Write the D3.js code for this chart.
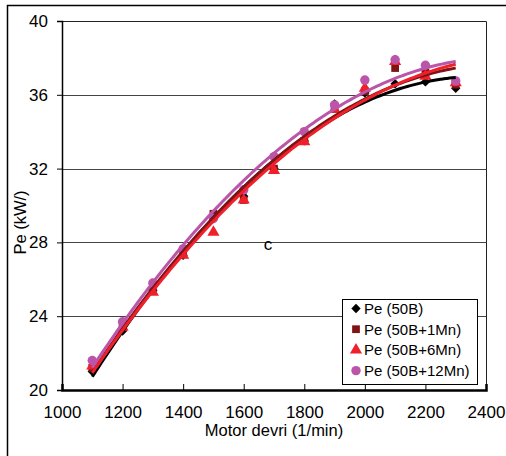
<!DOCTYPE html>
<html><head><meta charset="utf-8">
<script src="https://cdn.jsdelivr.net/npm/d3@7"></script>
<style>body{margin:0;background:#fff}svg{display:block}text{font-family:"Liberation Sans",Arial,sans-serif}</style>
</head><body><svg id="c" width="506" height="456"></svg>
<script>
const rpm = [1100,1200,1300,1400,1500,1600,1700,1800,1900,2000,2100,2200,2300];
const pe50B   = [21.0,23.2,25.4,27.3,29.4,30.5,32.0,33.5,35.5,36.1,36.6,36.7,36.35];
const pe1Mn   = [21.2,23.4,25.5,27.4,29.55,30.3,32.0,33.5,35.3,36.2,37.45,37.2,36.55];
const pe6Mn   = [21.3,23.4,25.3,27.3,28.55,30.3,31.9,33.45,35.2,36.35,37.8,37.0,36.65];
const pe12Mn  = [21.6,23.7,25.8,27.65,29.3,30.85,32.65,34.0,35.45,36.8,37.9,37.6,36.75];
const seriesNames = ["Pe (50B)","Pe (50B+1Mn)","Pe (50B+6Mn)","Pe (50B+12Mn)"];
const xTicks = [1000,1200,1400,1600,1800,2000,2200,2400];
const yTicks = [20,24,28,32,36,40];

const series = [
  {name:seriesNames[0], vals:pe50B, color:"#000000", shape:d3.symbolSquare, size:44, rot:45},
  {name:seriesNames[1], vals:pe1Mn, color:"#7f1416", shape:d3.symbolSquare, size:60, rot:0},
  {name:seriesNames[2], vals:pe6Mn, color:"#f0202a", shape:d3.symbolTriangle, size:64, rot:0},
  {name:seriesNames[3], vals:pe12Mn, color:"#bb55aa", shape:d3.symbolCircle, size:70, rot:0}
];

const svg = d3.select("#c");
const L=62,R=486,T=21,B=390;
const x = d3.scaleLinear().domain([1000,2400]).range([L,R]);
const y = d3.scaleLinear().domain([20,40]).range([B,T]);

svg.append("path").attr("d",`M7.5,470 V5.5 H520`).attr("fill","none").attr("stroke","#000").attr("stroke-width",1.5);

svg.append("g").selectAll("line").data(yTicks.filter(v=>v>20&&v<40)).join("line")
  .attr("x1",L).attr("x2",R).attr("y1",d=>Math.round(y(d))+0.5).attr("y2",d=>Math.round(y(d))+0.5)
  .attr("stroke","#444").attr("stroke-width",1);
svg.append("path").attr("d",`M${L},${T+0.5} H${R+0.5} V${B}`).attr("fill","none").attr("stroke","#222").attr("stroke-width",1);

const gy = svg.append("g").attr("transform",`translate(${L},0)`)
  .call(d3.axisLeft(y).tickValues(yTicks).tickSize(5).tickPadding(9).tickFormat(d3.format("d")));
gy.select(".domain").attr("stroke","#000").attr("stroke-width",1.5);
gy.selectAll(".tick line").attr("stroke","#000");
gy.selectAll("text").attr("font-size",17).attr("fill","#000");

const gx = svg.append("g").attr("transform",`translate(0,${B})`)
  .call(d3.axisBottom(x).tickValues(xTicks).tickSize(-6).tickPadding(16).tickFormat(d3.format("d")));
gx.select(".domain").attr("stroke","#000").attr("stroke-width",2.5);
gx.selectAll(".tick line").attr("stroke","#000");
gx.selectAll("text").attr("font-size",17).attr("fill","#000");

svg.append("text").attr("x",274).attr("y",436).attr("text-anchor","middle").attr("font-size",16.5).text("Motor devri (1/min)");
svg.append("text").attr("transform",`translate(26,${(T+B)/2+17}) rotate(-90)`).attr("text-anchor","middle").attr("font-size",16.5).text("Pe (kW/)");

function polyfit(xs,ys,order){
  const n=order+1, A=[...Array(n)].map(()=>Array(n+1).fill(0));
  const xm=d3.mean(xs), xsN=xs.map(v=>(v-xm)/1000);
  for(let i=0;i<n;i++){for(let j=0;j<n;j++)A[i][j]=d3.sum(xsN,v=>Math.pow(v,i+j));A[i][n]=d3.sum(xsN,(v,k)=>ys[k]*Math.pow(v,i));}
  for(let i=0;i<n;i++){let p=i;for(let r=i+1;r<n;r++)if(Math.abs(A[r][i])>Math.abs(A[p][i]))p=r;[A[i],A[p]]=[A[p],A[i]];
    for(let r=0;r<n;r++){if(r===i)continue;const f=A[r][i]/A[i][i];for(let c=i;c<=n;c++)A[r][c]-=f*A[i][c];}}
  const co=A.map((row,i)=>row[n]/row[i]);
  return v=>{const t=(v-xm)/1000;return co.reduce((s,c,i)=>s+c*Math.pow(t,i),0);};
}

series.forEach(s=>{
  svg.append("g").selectAll("path").data(rpm.map((r,i)=>[r,s.vals[i]])).join("path")
    .attr("d",d3.symbol().type(s.shape).size(s.size))
    .attr("transform",d=>`translate(${x(d[0])},${y(d[1])}) rotate(${s.rot})`)
    .attr("fill",s.color);
});
const line = d3.line().x(d=>x(d[0])).y(d=>y(d[1])).curve(d3.curveBasis);
series.forEach(s=>{
  const f = polyfit(rpm,s.vals,2);
  const pts = d3.range(1100,2301,10).map(v=>[v,f(v)]);
  svg.append("path").datum(pts).attr("d",line).attr("fill","none").attr("stroke",s.color).attr("stroke-width",3);
});

svg.append("text").attr("x",268).attr("y",250).attr("text-anchor","middle").attr("font-size",17).text("c");

const lg = svg.append("g");
lg.append("rect").attr("x",342.5).attr("y",299.5).attr("width",135).attr("height",85).attr("fill","#fff").attr("stroke","#000").attr("stroke-width",1);
series.forEach((s,i)=>{
  const cy = 308.5 + i*20.7;
  lg.append("path").attr("d",d3.symbol().type(s.shape).size(s.size)).attr("transform",`translate(356,${cy}) rotate(${s.rot})`).attr("fill",s.color);
  lg.append("text").attr("x",364).attr("y",cy+5.5).attr("font-size",15).text(s.name);
});
</script></body></html>
